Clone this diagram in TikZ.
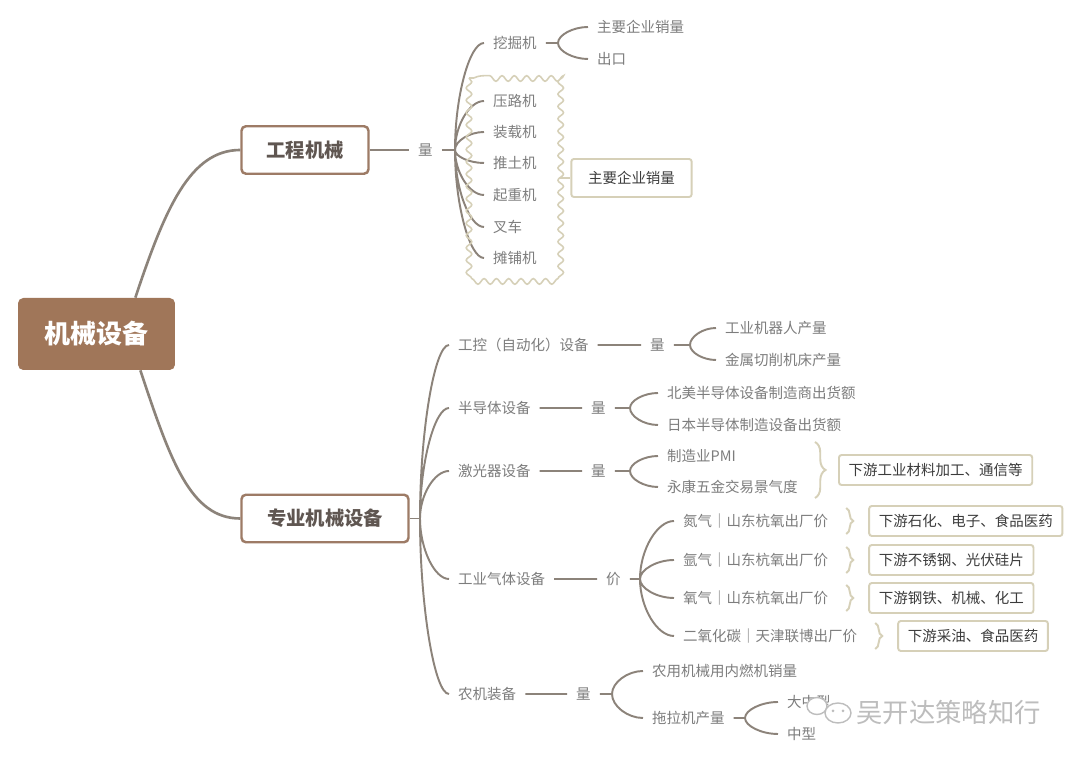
\documentclass[tikz,border=0pt]{standalone}
\usepackage{fontspec}
\setmainfont{Noto Sans CJK SC}
\usetikzlibrary{calc,decorations.pathmorphing,decorations.pathreplacing}
\definecolor{kaffee}{HTML}{A07659}
\definecolor{kaffeer}{HTML}{9D7B66}
\definecolor{ktext}{HTML}{5F5651}
\definecolor{linie}{HTML}{8C837A}
\definecolor{schrift}{HTML}{7D7D7D}
\definecolor{dunkel}{HTML}{3C3C3C}
\definecolor{sand}{HTML}{D6D0B8}
\definecolor{marke}{HTML}{BDBDBD}
\tikzset{
  wurzel/.style={fill=kaffee,text=white,rounded corners=3pt,minimum width=3.14cm,minimum height=1.44cm,font=\fontsize{14.8}{17}\selectfont\bfseries},
  ast/.style={draw=kaffeer,fill=white,line width=1.4pt,rounded corners=2.5pt,minimum height=0.95cm,text=ktext,font=\fontsize{11}{13}\selectfont\bfseries},
  blatt/.style={anchor=west,inner xsep=5pt,inner ysep=2pt,text=schrift,font=\fontsize{8.25}{10}\selectfont},
  kasten/.style={draw=sand,line width=1.1pt,rounded corners=1.5pt,inner xsep=5.5pt,minimum height=0.6cm,text=dunkel,font=\fontsize{8.25}{10}\selectfont},
  lin/.style={linie,line width=1.1pt},
  stamm/.style={linie,line width=1.5pt},
  fan/.style={to path={.. controls ($(\tikztostart)!0.5!(\tikztostart |- \tikztotarget)$) and ($(\tikztostart |- \tikztotarget)!0.5!(\tikztotarget)$) .. (\tikztotarget)}},
  klammer/.style={sand,line width=1.1pt,decorate,decoration={brace,amplitude=4pt}},
  welle/.style={sand,line width=0.9pt,decorate,decoration={snake,amplitude=1.6pt,segment length=7pt}},
}
\begin{document}
\begin{tikzpicture}[x=0.02cm,y=-0.02cm]
  \path[use as bounding box,fill=white] (0,0) rectangle (1080,759);
  \node[wurzel] (root) at (96.5,334) {机械设备};
  \node[ast,minimum width=2.54cm] (gc) at (305,150) {工程机械};
  \node[ast,minimum width=3.34cm] (zy) at (325,518.5) {专业机械设备};
  \draw[stamm] ([xshift=-0.8cm]root.north east) .. controls +(30,-90) and +(-50,0) .. (gc.west);
  \draw[stamm] ([xshift=-0.7cm]root.south east) .. controls +(30,90) and +(-50,0) .. (zy.west);

  \node[blatt] (q1) at (409,150) {量};
  \coordinate (f1) at (455,150);
  \draw[lin] (gc) -- (q1) (q1) -- (f1);
  \node[blatt] (wj) at (484,43) {挖掘机};
  \node[blatt] (ylj) at (484,101) {压路机};
  \node[blatt] (zzj) at (484,132) {装载机};
  \node[blatt] (ttj) at (484,163) {推土机};
  \node[blatt] (qzj) at (484,195) {起重机};
  \node[blatt] (cc) at (484,227) {叉车};
  \node[blatt] (tpj) at (484,258) {摊铺机};
  \draw[lin] (f1) to[fan] (wj.west) (f1) to[fan] (ylj.west) (f1) to[fan] (zzj.west)
    (f1) to[fan] (ttj.west) (f1) to[fan] (qzj.west) (f1) to[fan] (cc.west) (f1) to[fan] (tpj.west);
  \coordinate (f2) at (558,43);
  \node[blatt] (wj1) at (588,27) {主要企业销量};
  \node[blatt] (wj2) at (588,59) {出口};
  \draw[lin] (wj) -- (f2) to[fan] (wj1.west) (f2) to[fan] (wj2.west);
  \coordinate (w1) at (469,78);
  \coordinate (w2) at (557,276);
  \draw[welle] (w1) rectangle (w2);
  \node[kasten,inner xsep=9.5pt,minimum height=0.76cm] (zb1) at (631.5,178) {主要企业销量};
  \coordinate (wr) at (559,178);
  \draw[sand,line width=0.9pt] (wr) -- (zb1);

  \coordinate (f3) at (420,518.5);
  \draw[lin] (zy) -- (f3);
  \node[blatt] (gk) at (449,345) {工控（自动化）设备};
  \node[blatt] (bd) at (449,408) {半导体设备};
  \node[blatt] (jg) at (449,471) {激光器设备};
  \node[blatt] (gt) at (449,579) {工业气体设备};
  \node[blatt] (nj) at (449,694) {农机装备};
  \draw[lin] (f3) to[fan] (gk.west) (f3) to[fan] (bd.west) (f3) to[fan] (jg.west)
    (f3) to[fan] (gt.west) (f3) to[fan] (nj.west);

  \node[blatt] (q2) at (641,345) {量};
  \coordinate (f4) at (690,345);
  \node[blatt] (gk1) at (716,328) {工业机器人产量};
  \node[blatt] (gk2) at (716,360) {金属切削机床产量};
  \draw[lin] (gk) -- (q2) (q2) -- (f4) to[fan] (gk1.west) (f4) to[fan] (gk2.west);

  \node[blatt] (q3) at (582,408) {量};
  \coordinate (f5) at (630,408);
  \node[blatt] (bd1) at (658,393) {北美半导体设备制造商出货额};
  \node[blatt] (bd2) at (658,425) {日本半导体制造设备出货额};
  \draw[lin] (bd) -- (q3) (q3) -- (f5) to[fan] (bd1.west) (f5) to[fan] (bd2.west);

  \node[blatt] (q4) at (582,471) {量};
  \coordinate (f6) at (630,471);
  \node[blatt] (jg1) at (658,456) {制造业PMI};
  \node[blatt] (jg2) at (658,487) {永康五金交易景气度};
  \draw[lin] (jg) -- (q4) (q4) -- (f6) to[fan] (jg1.west) (f6) to[fan] (jg2.west);
  \coordinate (k1) at (815,442);
  \coordinate (k2) at (815,498);
  \draw[klammer,decoration={amplitude=6pt}] (k1) -- (k2);
  \node[kasten,anchor=west] (zb2) at (838,470) {下游工业材料加工、通信等};

  \node[blatt] (q5) at (597,579) {价};
  \coordinate (f7) at (640,579);
  \node[blatt] (dq) at (674,521) {氮气｜山东杭氧出厂价};
  \node[blatt] (yq) at (674,560) {氩气｜山东杭氧出厂价};
  \node[blatt] (oq) at (674,598) {氧气｜山东杭氧出厂价};
  \node[blatt] (co) at (674,636) {二氧化碳｜天津联博出厂价};
  \draw[lin] (gt) -- (q5) (q5) -- (f7) to[fan] (dq.west) (f7) to[fan] (yq.west)
    (f7) to[fan] (oq.west) (f7) to[fan] (co.west);
  \draw[klammer] ($(dq.east)+(9,-13)$) -- ($(dq.east)+(9,13)$);
  \draw[klammer] ($(yq.east)+(9,-13)$) -- ($(yq.east)+(9,13)$);
  \draw[klammer] ($(oq.east)+(9,-13)$) -- ($(oq.east)+(9,13)$);
  \draw[klammer] ($(co.east)+(9,-13)$) -- ($(co.east)+(9,13)$);
  \node[kasten,anchor=west] (zb3) at ($(dq.east)+(31,0)$) {下游石化、电子、食品医药};
  \node[kasten,anchor=west] (zb4) at ($(yq.east)+(31,0)$) {下游不锈钢、光伏硅片};
  \node[kasten,anchor=west] (zb5) at ($(oq.east)+(31,0)$) {下游钢铁、机械、化工};
  \node[kasten,anchor=west] (zb6) at ($(co.east)+(31,0)$) {下游采油、食品医药};

  \node[blatt] (q6) at (567,694) {量};
  \coordinate (f8) at (612,694);
  \node[blatt] (nj1) at (643,671) {农用机械用内燃机销量};
  \node[blatt] (nj2) at (643,718) {拖拉机产量};
  \draw[lin] (nj) -- (q6) (q6) -- (f8) to[fan] (nj1.west) (f8) to[fan] (nj2.west);
  \coordinate (f9) at (745,718);
  \node[blatt] (tl1) at (778,702) {大中型};
  \node[blatt] (tl2) at (778,734) {中型};
  \draw[lin] (nj2) -- (f9) to[fan] (tl1.west) (f9) to[fan] (tl2.west);

  \draw[marke,fill=white,line width=0.8pt] (817,706) ellipse [x radius=0.2cm,y radius=0.17cm];
  \draw[marke,fill=white,line width=0.8pt] (838,713) ellipse [x radius=0.26cm,y radius=0.2cm];
  \fill[marke] (833,711) circle[radius=0.03cm] (843,711) circle[radius=0.03cm];
  \node[anchor=west,inner sep=0pt,text=marke,font=\fontsize{15}{17}\selectfont] (wm) at (856,712) {吴开达策略知行};
\end{tikzpicture}
\end{document}
